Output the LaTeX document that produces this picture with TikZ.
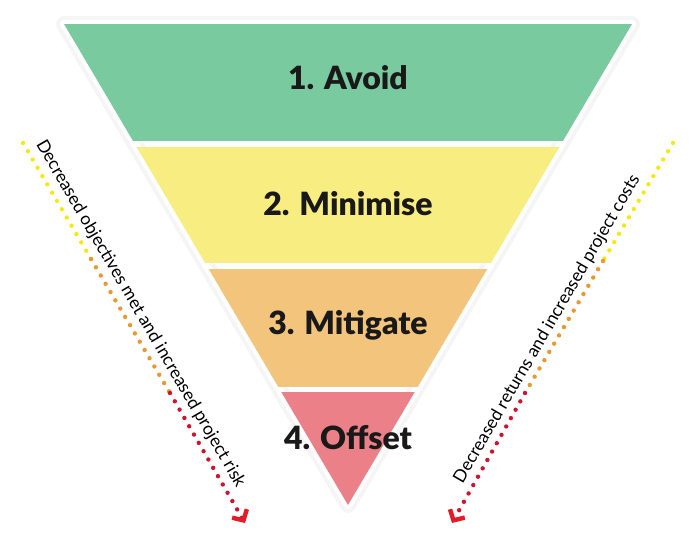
\documentclass[tikz,border=0pt]{standalone}
\usepackage{fontspec}
\setmainfont{Lato}
\newfontfamily\heavyfont{Lato Black}
\usetikzlibrary{arrows.meta}
\definecolor{avoidgreen}{RGB}{122,202,160}
\definecolor{minyellow}{RGB}{248,237,128}
\definecolor{mitorange}{RGB}{243,196,123}
\definecolor{offpink}{RGB}{236,128,136}
\definecolor{dotyellow}{RGB}{246,232,20}
\definecolor{dotorange}{RGB}{232,152,48}
\definecolor{dotred}{RGB}{205,20,45}
\definecolor{tipred}{RGB}{228,28,40}
\tikzset{
  band/.style={anchor=base, font=\fontsize{32}{32}\selectfont\heavyfont, text=black!90},
  dots/.style={line width=4.4pt, line cap=round, dash pattern=on 0pt off 9.6pt},
  sidetext/.style={font=\fontsize{17.5}{18}\selectfont, sloped, above, inner sep=7pt}
}
\begin{document}
\begin{tikzpicture}[x=1pt,y=1pt]
\useasboundingbox (0,0) rectangle (689,535);
% corners of the funnel
\coordinate (tl) at (64,511);
\coordinate (tr) at (632,511);
\coordinate (ap) at (348,30);

\draw[black!4, line width=16pt, line join=round] (tl) -- (tr) -- (ap) -- cycle;
\draw[white, line width=8pt, line join=round] (tl) -- (tr) -- (ap) -- cycle;

\begin{scope}
\clip (tl) -- (tr) -- (ap) -- cycle;
\fill[avoidgreen] (0,394) rectangle (689,511);
\fill[minyellow] (0,272) rectangle (689,388);
\fill[mitorange] (0,148) rectangle (689,266);
\fill[offpink] (0,30) rectangle (689,143);
\end{scope}

\node[band] (avoid) at (348,445) {1. Avoid};
\node[band] (minimise) at (348,319) {2. Minimise};
\node[band] (mitigate) at (348,200) {3. Mitigate};
\node[band] (offset) at (348,85) {4. Offset};

% left dotted arrow
\coordinate (ls) at (23,392);
\coordinate (ly) at (91,276);
\coordinate (lo) at (170,142);
\coordinate (le) at (245,12);
\draw[dots, dotyellow] (ls) -- (ly);
\draw[dots, dotorange] (ly) -- (lo);
\draw[dots, dotred, -{Straight Barb[length=8pt, width=17pt, color=tipred]}] (lo) -- (le);
\path (ls) -- (le) node[sidetext, pos=0.47] (lefttext) {Decreased objectives met and increased project risk};

% right dotted arrow
\coordinate (rs) at (673,392);
\coordinate (ry) at (603,274);
\coordinate (ro) at (525,142);
\coordinate (re) at (452,12);
\draw[dots, dotyellow] (rs) -- (ry);
\draw[dots, dotorange] (ry) -- (ro);
\draw[dots, dotred, -{Straight Barb[length=8pt, width=17pt, color=tipred]}] (ro) -- (re);
\path (re) -- (rs) node[sidetext, pos=0.49] (righttext) {Decreased returns and increased project costs};
\end{tikzpicture}
\end{document}
